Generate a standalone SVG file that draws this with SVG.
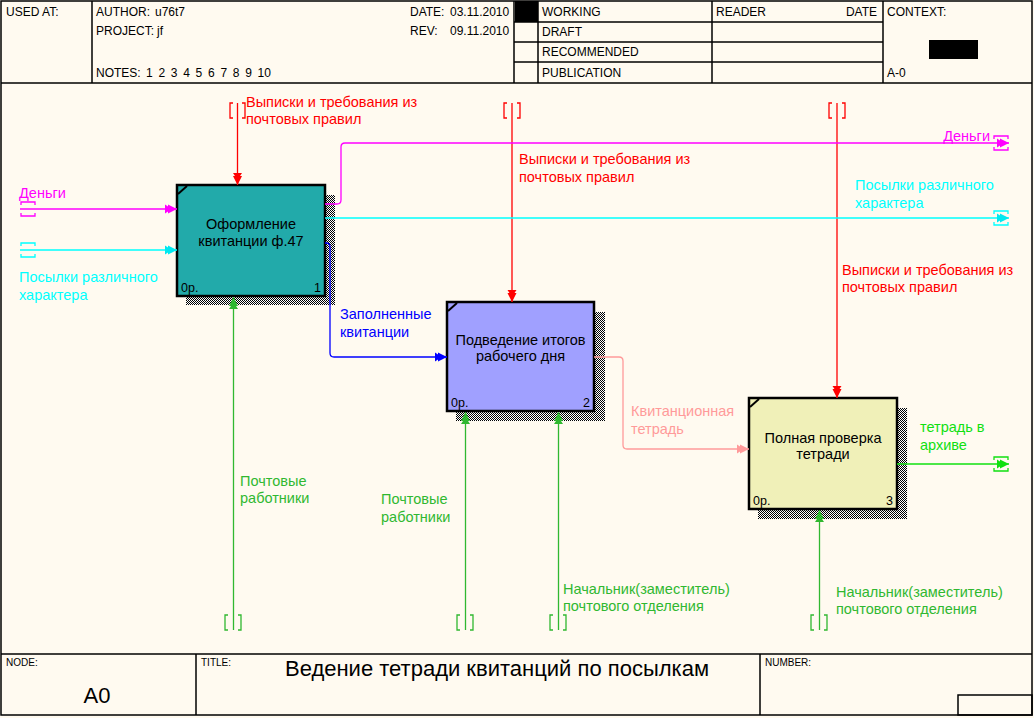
<svg xmlns="http://www.w3.org/2000/svg" width="1034" height="718" viewBox="0 0 1034 718">
<style>
text{font-family:"Liberation Sans",Arial,sans-serif;}
.hd{font-size:12px;fill:#000;}
.ft{font-size:10px;fill:#000;}
.lb{font-size:14.5px;}
.bx{font-size:14.5px;fill:#000;text-anchor:middle;}
.sm{font-size:12.5px;fill:#000;}
.frame{fill:none;stroke:#000;stroke-width:1.5;}
.box{stroke:#000;stroke-width:2.5;}
.conn{fill:none;stroke-width:1.3;}
.tun{fill:none;stroke-width:1.3;}
</style>
<defs>
<pattern id="hatch" width="2" height="2" patternUnits="userSpaceOnUse">
<rect width="2" height="2" fill="#ffffff"/>
<rect x="0" y="0" width="1" height="1" fill="#000"/>
<rect x="1" y="1" width="1" height="1" fill="#000"/>
</pattern>
<marker id="aR" markerWidth="13" markerHeight="11" refX="12" refY="5.5" orient="auto" markerUnits="userSpaceOnUse"><path d="M0,1 L3,3 L3,1 L12,5.5 L3,10 L3,8 L0,10 Z" fill="#ff0000"/></marker>
<marker id="aM" markerWidth="13" markerHeight="11" refX="12" refY="5.5" orient="auto" markerUnits="userSpaceOnUse"><path d="M0,1 L3,3 L3,1 L12,5.5 L3,10 L3,8 L0,10 Z" fill="#ff00ff"/></marker>
<marker id="aC" markerWidth="13" markerHeight="11" refX="12" refY="5.5" orient="auto" markerUnits="userSpaceOnUse"><path d="M0,1 L3,3 L3,1 L12,5.5 L3,10 L3,8 L0,10 Z" fill="#00e8f0"/></marker>
<marker id="aB" markerWidth="13" markerHeight="11" refX="12" refY="5.5" orient="auto" markerUnits="userSpaceOnUse"><path d="M0,1 L3,3 L3,1 L12,5.5 L3,10 L3,8 L0,10 Z" fill="#0000ff"/></marker>
<marker id="aP" markerWidth="13" markerHeight="11" refX="12" refY="5.5" orient="auto" markerUnits="userSpaceOnUse"><path d="M0,1 L3,3 L3,1 L12,5.5 L3,10 L3,8 L0,10 Z" fill="#ff9a9a"/></marker>
<marker id="aG" markerWidth="13" markerHeight="11" refX="12" refY="5.5" orient="auto" markerUnits="userSpaceOnUse"><path d="M0,1 L3,3 L3,1 L12,5.5 L3,10 L3,8 L0,10 Z" fill="#30b830"/></marker>
<marker id="aL" markerWidth="13" markerHeight="11" refX="12" refY="5.5" orient="auto" markerUnits="userSpaceOnUse"><path d="M0,1 L3,3 L3,1 L12,5.5 L3,10 L3,8 L0,10 Z" fill="#10e010"/></marker>
</defs>
<rect x="0" y="0" width="1034" height="718" fill="#fffaf0"/>

<g id="frame">
<rect class="frame" x="1" y="1" width="1031" height="714"/>
<line class="frame" x1="1" y1="83" x2="1032" y2="83"/>
<line class="frame" x1="92" y1="1" x2="92" y2="83"/>
<line class="frame" x1="514" y1="1" x2="514" y2="83"/>
<line class="frame" x1="538" y1="1" x2="538" y2="83"/>
<line class="frame" x1="712" y1="1" x2="712" y2="83"/>
<line class="frame" x1="883" y1="1" x2="883" y2="83"/>
<line class="frame" x1="514" y1="22" x2="883" y2="22"/>
<line class="frame" x1="514" y1="42" x2="883" y2="42"/>
<line class="frame" x1="514" y1="62" x2="883" y2="62"/>
<rect x="515" y="1" width="23" height="21" fill="#000"/>
<rect x="929" y="40" width="49" height="19" fill="#000"/>
<text class="hd" x="6" y="16">USED AT:</text>
<text class="hd" x="96" y="16">AUTHOR:</text>
<text class="hd" x="155" y="16">u76t7</text>
<text class="hd" x="96" y="35">PROJECT:</text>
<text class="hd" x="157" y="35">jf</text>
<text class="hd" x="96" y="77">NOTES:</text>
<text class="hd" x="146" y="77">1</text>
<text class="hd" x="158.4" y="77">2</text>
<text class="hd" x="170.8" y="77">3</text>
<text class="hd" x="183.2" y="77">4</text>
<text class="hd" x="195.6" y="77">5</text>
<text class="hd" x="208" y="77">6</text>
<text class="hd" x="220.4" y="77">7</text>
<text class="hd" x="232.8" y="77">8</text>
<text class="hd" x="245.2" y="77">9</text>
<text class="hd" x="257.6" y="77">10</text>
<text class="hd" x="410" y="16">DATE:</text>
<text class="hd" x="450" y="16">03.11.2010</text>
<text class="hd" x="410" y="35">REV:</text>
<text class="hd" x="450" y="35">09.11.2010</text>
<text class="hd" x="542" y="16">WORKING</text>
<text class="hd" x="542" y="36">DRAFT</text>
<text class="hd" x="542" y="56">RECOMMENDED</text>
<text class="hd" x="542" y="77">PUBLICATION</text>
<text class="hd" x="716" y="16">READER</text>
<text class="hd" x="877" y="16" text-anchor="end">DATE</text>
<text class="hd" x="887" y="16">CONTEXT:</text>
<text class="hd" x="887" y="77">A-0</text>
<line class="frame" x1="1" y1="654" x2="1032" y2="654"/>
<line class="frame" x1="196" y1="654" x2="196" y2="715"/>
<line class="frame" x1="760" y1="654" x2="760" y2="715"/>
<rect class="frame" x="958" y="695" width="74" height="20"/>
<text class="ft" x="6" y="666">NODE:</text>
<text class="ft" x="201" y="666">TITLE:</text>
<text class="ft" x="765" y="666">NUMBER:</text>
<text x="497" y="676" font-size="22" text-anchor="middle">Ведение тетради квитанций по посылкам</text>
<text x="97" y="703" font-size="22" text-anchor="middle">A0</text>
</g>

<g id="node1">
<rect x="186" y="195" width="149" height="110" fill="url(#hatch)"/>
<rect class="box" x="177" y="185" width="148" height="111" fill="#22aaaa"/>
<line x1="178" y1="194" x2="187" y2="186" stroke="#000" stroke-width="2"/>
<text class="bx" x="251" y="229">Оформление</text>
<text class="bx" x="251" y="246">квитанции ф.47</text>
<text class="sm" x="181" y="292">0р.</text>
<text class="sm" x="321" y="292" text-anchor="end">1</text>
</g>

<g id="node2">
<rect x="456" y="312" width="149" height="109" fill="url(#hatch)"/>
<rect class="box" x="447" y="302" width="147" height="109" fill="#a0a0ff"/>
<line x1="448" y1="311" x2="457" y2="303" stroke="#000" stroke-width="2"/>
<text class="bx" x="520.5" y="345">Подведение итогов</text>
<text class="bx" x="520.5" y="361">рабочего дня</text>
<text class="sm" x="451" y="407">0р.</text>
<text class="sm" x="590" y="407" text-anchor="end">2</text>
</g>

<g id="node3">
<rect x="758" y="408" width="149" height="111" fill="url(#hatch)"/>
<rect class="box" x="749" y="398" width="148" height="111" fill="#f0f0b8"/>
<line x1="750" y1="407" x2="759" y2="399" stroke="#000" stroke-width="2"/>
<text class="bx" x="823" y="443">Полная проверка</text>
<text class="bx" x="823" y="459">тетради</text>
<text class="sm" x="753" y="505">0р.</text>
<text class="sm" x="893" y="505" text-anchor="end">3</text>
</g>

<g id="connectors">
<path class="conn" stroke="#ff0000" d="M237.5,103 V185" marker-end="url(#aR)"/>
<path class="tun" stroke="#ff0000" d="M233,103 H230 V118 H233 M242,103 H245 V118 H242"/>
<text class="lb" fill="#ff0000" x="246" y="107">Выписки и требования из</text>
<text class="lb" fill="#ff0000" x="246" y="124">почтовых правил</text>

<path class="conn" stroke="#ff0000" d="M512,103 V302" marker-end="url(#aR)"/>
<path class="tun" stroke="#ff0000" d="M507,103 H504 V118 H507 M517,103 H520 V118 H517"/>
<text class="lb" fill="#ff0000" x="519" y="164">Выписки и требования из</text>
<text class="lb" fill="#ff0000" x="519" y="182">почтовых правил</text>

<path class="conn" stroke="#ff0000" d="M837,103 V398" marker-end="url(#aR)"/>
<path class="tun" stroke="#ff0000" d="M832,103 H829 V118 H832 M842,103 H845 V118 H842"/>
<text class="lb" fill="#ff0000" x="842" y="275">Выписки и требования из</text>
<text class="lb" fill="#ff0000" x="842" y="292">почтовых правил</text>

<path class="conn" stroke="#ff00ff" d="M20,209 H177" marker-end="url(#aM)"/>
<path class="tun" stroke="#ff00ff" d="M21,205 V202 H35 V205 M21,213 V216 H35 V213"/>
<text class="lb" fill="#ff00ff" x="19" y="198">Деньги</text>

<path class="conn" stroke="#00ffff" d="M20,250 H177" marker-end="url(#aC)"/>
<path class="tun" stroke="#00ffff" d="M21,246 V243 H35 V246 M21,254 V257 H35 V254"/>
<text class="lb" fill="#00ffff" x="19" y="282">Посылки различного</text>
<text class="lb" fill="#00ffff" x="19" y="300">характера</text>

<path class="conn" stroke="#ff00ff" d="M325,204 H337 Q341,204 341,200 V147 Q341,143 345,143 H1009" marker-end="url(#aM)"/>
<path class="tun" stroke="#ff00ff" d="M994,139 V136 H1008 V139 M994,147 V150 H1008 V147"/>
<text class="lb" fill="#ff00ff" x="990" y="141" text-anchor="end">Деньги</text>

<path class="conn" stroke="#00ffff" d="M325,218 H1009" marker-end="url(#aC)"/>
<path class="tun" stroke="#00ffff" d="M994,214 V211 H1008 V214 M994,222 V225 H1008 V222"/>
<text class="lb" fill="#00ffff" x="855" y="190">Посылки различного</text>
<text class="lb" fill="#00ffff" x="855" y="208">характера</text>

<path class="conn" stroke="#0000ff" d="M325,243 H326 Q330,243 330,247 V353 Q330,357 334,357 H447" marker-end="url(#aB)"/>
<text class="lb" fill="#0000ff" x="340" y="319">Заполненные</text>
<text class="lb" fill="#0000ff" x="340" y="337">квитанции</text>

<path class="conn" stroke="#ff9a9a" d="M594,357 H619 Q623,357 623,361 V445 Q623,449 627,449 H749" marker-end="url(#aP)"/>
<text class="lb" fill="#ff9a9a" x="631" y="416">Квитанционная</text>
<text class="lb" fill="#ff9a9a" x="631" y="434">тетрадь</text>

<path class="conn" stroke="#10e010" d="M897,464 H1009" marker-end="url(#aL)"/>
<path class="tun" stroke="#10e010" d="M994,460 V457 H1008 V460 M994,468 V471 H1008 V468"/>
<text class="lb" fill="#10e010" x="920" y="432">тетрадь в</text>
<text class="lb" fill="#10e010" x="920" y="450">архиве</text>

<path class="conn" stroke="#30b830" d="M233.5,630 V297" marker-end="url(#aG)"/>
<path class="tun" stroke="#30b830" d="M228,615 H225 V630 H228 M238,615 H241 V630 H238"/>
<text class="lb" fill="#30b830" x="240" y="486">Почтовые</text>
<text class="lb" fill="#30b830" x="240" y="503">работники</text>

<path class="conn" stroke="#30b830" d="M465.5,630 V412" marker-end="url(#aG)"/>
<path class="tun" stroke="#30b830" d="M460,615 H457 V630 H460 M470,615 H473 V630 H470"/>
<text class="lb" fill="#30b830" x="381" y="504">Почтовые</text>
<text class="lb" fill="#30b830" x="381" y="522">работники</text>

<path class="conn" stroke="#30b830" d="M558.5,630 V412" marker-end="url(#aG)"/>
<path class="tun" stroke="#30b830" d="M553,615 H550 V630 H553 M563,615 H566 V630 H563"/>
<text class="lb" fill="#30b830" x="563" y="594">Начальник(заместитель)</text>
<text class="lb" fill="#30b830" x="563" y="611">почтового отделения</text>

<path class="conn" stroke="#30b830" d="M819.5,630 V510" marker-end="url(#aG)"/>
<path class="tun" stroke="#30b830" d="M814,615 H811 V630 H814 M824,615 H827 V630 H824"/>
<text class="lb" fill="#30b830" x="836" y="597">Начальник(заместитель)</text>
<text class="lb" fill="#30b830" x="836" y="614">почтового отделения</text>
</g>
</svg>
